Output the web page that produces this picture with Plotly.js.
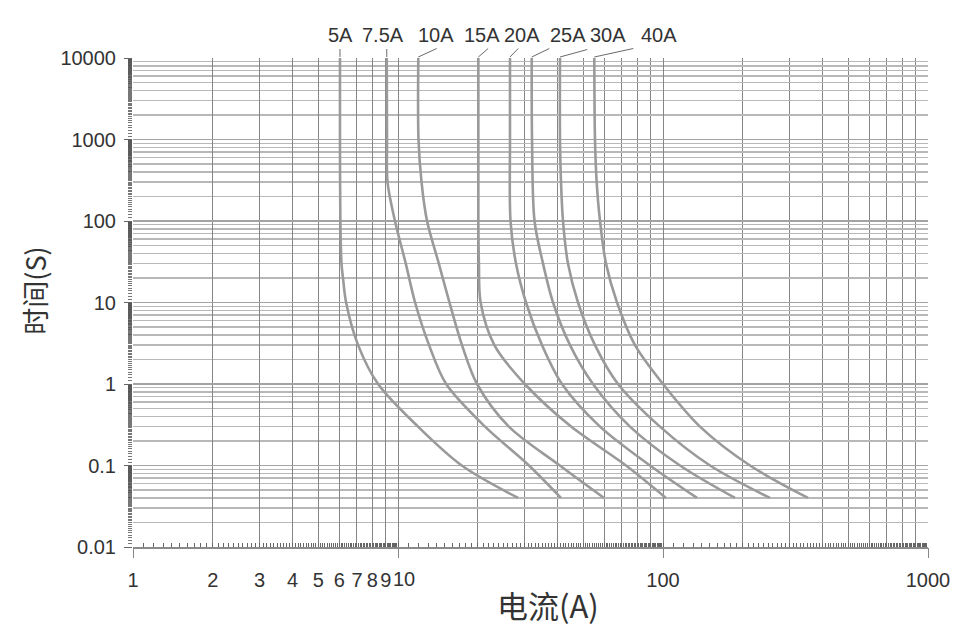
<!DOCTYPE html>
<html>
<head>
<meta charset="utf-8">
<script src="https://cdn.plot.ly/plotly-3.0.1.min.js"></script>
<style>
  html, body { margin: 0; padding: 0; background: #ffffff; }
  #chart { width: 980px; height: 644px; }
</style>
</head>
<body>
<div id="chart"></div>
<script>
// ---------------- data ----------------
const ratings = ['5A', '7.5A', '10A', '15A', '20A', '25A', '30A', '40A'];

const I_5A   = [6.04, 6.04, 6.06, 6.12, 6.2, 6.37, 7.07, 8.41, 11.9, 17.4, 28.4];
const t_5A   = [10000, 1000, 100, 30, 20, 10, 3, 1, 0.3, 0.1, 0.04];

const I_7_5A = [9.07, 9.09, 9.13, 9.74, 10.7, 11.6, 13.1, 15.2, 21.3, 31.2, 41.2];
const t_7_5A = [10000, 1000, 300, 100, 30, 10, 3, 1, 0.3, 0.1, 0.04];

const I_10A  = [11.93, 11.95, 12.27, 12.87, 14.26, 15.64, 17.44, 19.87, 26.2, 40.8, 59.9];
const t_10A  = [10000, 1000, 300, 100, 30, 10, 3, 1, 0.3, 0.1, 0.04];

const I_15A  = [20.1, 20.1, 20.2, 20.5, 23.1, 30.1, 45.0, 72.5, 102.6];
const t_15A  = [10000, 100, 30, 10, 3, 1, 0.3, 0.1, 0.04];

const I_20A  = [26.46, 26.46, 26.58, 27.88, 30.41, 34.95, 41.57, 57.85, 89.3, 134.4];
const t_20A  = [10000, 1000, 100, 30, 10, 3, 1, 0.3, 0.1, 0.04];

const I_25A  = [31.96, 32.05, 32.75, 35.26, 38.46, 44.58, 54.43, 75.06, 115.9, 186.9];
const t_25A  = [10000, 1000, 100, 30, 10, 3, 1, 0.3, 0.1, 0.04];

const I_30A  = [40.86, 40.86, 41.22, 41.94, 43.8, 47.78, 55.38, 67.66, 97.4, 150.5, 253.4];
const t_30A  = [10000, 1000, 300, 100, 30, 10, 3, 1, 0.3, 0.1, 0.04];

const I_40A  = [55.05, 55.38, 56.2, 57.85, 60.95, 67.07, 78.4, 100, 137.9, 213, 352.5];
const t_40A  = [10000, 1000, 300, 100, 30, 10, 3, 1, 0.3, 0.1, 0.04];

const xTickVals   = [1, 2, 3, 4, 5, 6, 7, 8, 9, 10, 100, 1000];
const xTickLabels = ['1', '2', '3', '4', '5', '6', '7', '8', '9', '10', '100', '1000'];
const yTickVals   = [0.01, 0.1, 1, 10, 100, 1000, 10000];
const yTickLabels = ['0.01', '0.1', '1', '10', '100', '1000', '10000'];

const xTitle = '电流(A)';
const yTitle = '时间(S)';

// ---------------- build ----------------
const seriesI = [I_5A, I_7_5A, I_10A, I_15A, I_20A, I_25A, I_30A, I_40A];
const seriesT = [t_5A, t_7_5A, t_10A, t_15A, t_20A, t_25A, t_30A, t_40A];

function gridPositions(lo, hi) {
  const out = [];
  for (let d = lo; d < hi; d *= 10) for (let k = 1; k <= 9; k++) out.push(+(k * d).toPrecision(6));
  out.push(hi);
  return out;
}
function densePositions(lo, hi) {
  const out = [];
  for (let d = lo; d < hi; d *= 10) for (let k = 10; k <= 99; k++) out.push(+(k / 10 * d).toPrecision(6));
  out.push(hi);
  return out;
}
const xGrid = gridPositions(1, 1000).filter(v => xTickVals.indexOf(v) < 0);
const yGrid = gridPositions(0.01, 10000).filter(v => yTickVals.indexOf(v) < 0);
const xDense = densePositions(1, 1000);
const yDense = densePositions(0.01, 10000);

// the "10" label sits slightly right of its grid line in the reference: it goes on its own axis
const SHIFTED_LABEL = '10';
const mainText = xTickLabels.map(s => (s === SHIFTED_LABEL ? '' : s));
const shiftedVal = [xTickVals[xTickLabels.indexOf(SHIFTED_LABEL)]];

const CURVE = '#9a9a9a';
const FONT = 'Liberation Sans, Arial, sans-serif';
const CJK = 'Noto Sans CJK SC, sans-serif';

const traces = ratings.map((r, i) => ({
  type: 'scatter', mode: 'lines', name: r,
  x: seriesI[i], y: seriesT[i],
  line: { color: CURVE, width: 2.6, shape: 'spline', smoothing: 0.9 },
  hoverinfo: 'x+y+name', showlegend: false
}));
traces.push({ type: 'scatter', x: [], y: [], xaxis: 'x2', yaxis: 'y2', showlegend: false, hoverinfo: 'skip' });
traces.push({ type: 'scatter', x: [], y: [], xaxis: 'x3', yaxis: 'y3', showlegend: false, hoverinfo: 'skip' });
traces.push({ type: 'scatter', x: [], y: [], xaxis: 'x4', yaxis: 'y', showlegend: false, hoverinfo: 'skip' });

// label style (px): text shift from the curve top, leader-line tail offset from the curve top
const labelShift = [0.5, -3.7, 17.7, 3.5, 12, 35.8, 48.5, 64.7];
const leaderTail = [[-5, 9], [-10, 9], [18.4, 9.5], [9.8, 9.5], [8.3, 9.5], [17.6, 9.5], [27.3, 8.5], [39, 9.5]];

const annotations = ratings.map((r, i) => ({
  x: Math.log10(seriesI[i][0]), y: Math.log10(seriesT[i][0]),
  xref: 'x', yref: 'y', text: r, showarrow: false,
  xshift: labelShift[i], yshift: 23, xanchor: 'center', yanchor: 'middle',
  font: { family: FONT, size: 20, color: '#333' }
}));
annotations.push({
  xref: 'paper', yref: 'paper', x: 0.522, y: -0.117, text: xTitle, showarrow: false,
  xanchor: 'center', yanchor: 'middle', font: { family: CJK, size: 31, color: '#333' }
});
annotations.push({
  xref: 'paper', yref: 'paper', x: -0.125, y: 0.5235, text: yTitle, showarrow: false, textangle: -90,
  xanchor: 'center', yanchor: 'middle', font: { family: CJK, size: 27, color: '#333' }
});

// leader lines: anchored at each curve's top current, at the top edge of the plot (paper y = 1)
const shapes = ratings.map((r, i) => ({
  type: 'line', xref: 'x', yref: 'paper',
  xsizemode: 'pixel', ysizemode: 'pixel',
  xanchor: seriesI[i][0], yanchor: 1,
  x0: 0, y0: 1, x1: leaderTail[i][0], y1: leaderTail[i][1],
  line: { color: '#6a6a6a', width: 1 }
}));

const layout = {
  width: 980, height: 644,
  margin: { l: 133, r: 52, t: 58, b: 97, pad: 0 },
  paper_bgcolor: '#ffffff', plot_bgcolor: '#ffffff',
  showlegend: false,
  xaxis: {
    type: 'log', range: [0, 3], tickmode: 'array', tickvals: xTickVals, ticktext: mainText,
    tickangle: 0, ticks: 'outside', ticklen: 14, tickcolor: 'rgba(0,0,0,0)',
    tickfont: { family: FONT, size: 20, color: '#333' },
    showgrid: true, gridcolor: '#858585', gridwidth: 1,
    minor: { tickmode: 'array', tickvals: xGrid, showgrid: true, gridcolor: '#858585', gridwidth: 1, ticks: '' },
    showline: true, linecolor: '#8a8a8a', linewidth: 1.5, zeroline: false
  },
  yaxis: {
    type: 'log', range: [-2, 4], tickmode: 'array', tickvals: yTickVals, ticktext: yTickLabels,
    ticks: 'outside', ticklen: 12, tickcolor: 'rgba(0,0,0,0)',
    tickfont: { family: FONT, size: 20, color: '#333' },
    showgrid: true, gridcolor: '#a3a3a3', gridwidth: 1.6,
    minor: { tickmode: 'array', tickvals: yGrid, showgrid: true, gridcolor: '#b8b8b8', gridwidth: 1.3, ticks: '' },
    showline: false, zeroline: false
  },
  xaxis2: {
    overlaying: 'x', anchor: 'y2', type: 'log', range: [0, 3], tickmode: 'array', tickvals: xDense,
    ticks: 'inside', ticklen: 4, tickwidth: 1, tickcolor: '#666',
    showticklabels: false, showgrid: false, zeroline: false, showline: false
  },
  yaxis2: {
    overlaying: 'y', anchor: 'x2', side: 'left', type: 'log', range: [-2, 4], tickmode: 'array', tickvals: yDense,
    ticks: 'outside', ticklen: 4, tickwidth: 0.8, tickcolor: '#555',
    showticklabels: false, showgrid: false, zeroline: false, showline: false
  },
  xaxis3: {
    overlaying: 'x', anchor: 'y3', type: 'log', range: [0, 3], tickmode: 'array', tickvals: [1, 10, 100, 1000],
    ticks: 'outside', ticklen: 10, tickwidth: 1, tickcolor: '#888',
    showticklabels: false, showgrid: false, zeroline: false, showline: false
  },
  yaxis3: {
    overlaying: 'y', anchor: 'x3', side: 'left', type: 'log', range: [-2, 4], tickmode: 'array', tickvals: yTickVals,
    ticks: 'outside', ticklen: 8, tickwidth: 1, tickcolor: '#666',
    showticklabels: false, showgrid: false, zeroline: false, showline: false
  },
  xaxis4: {
    overlaying: 'x', anchor: 'y', type: 'log', range: [0, 3], tickmode: 'array',
    tickvals: shiftedVal, ticktext: [SHIFTED_LABEL], ticklabelshift: 6, tickangle: 0,
    ticks: 'outside', ticklen: 14, tickcolor: 'rgba(0,0,0,0)',
    tickfont: { family: FONT, size: 20, color: '#333' },
    showgrid: false, zeroline: false, showline: false
  },
  shapes: shapes,
  annotations: annotations
};

Plotly.newPlot('chart', traces, layout, { displayModeBar: false, staticPlot: true });
</script>
</body>
</html>
